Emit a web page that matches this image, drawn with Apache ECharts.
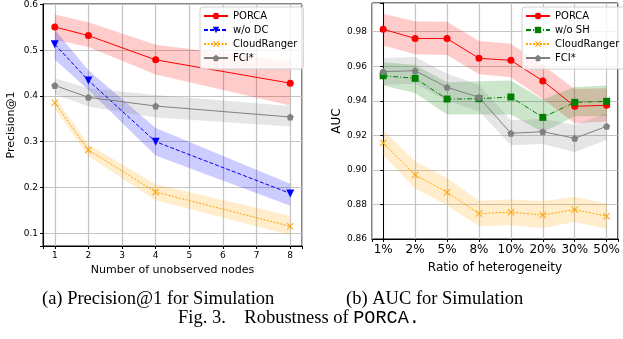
<!DOCTYPE html>
<html><head><meta charset="utf-8">
<script src="https://cdn.jsdelivr.net/npm/echarts@6/dist/echarts.min.js"></script>
<style>html,body{margin:0;padding:0;background:#fff}#c{width:623px;height:339px}</style>
</head><body><div id="c"></div>
<script>
// ---- Left chart data (Precision@1) ----
const nodes = [1, 2, 4, 8];
const porcaA = [0.551, 0.532, 0.479, 0.428];
const porcaAHi = [0.578, 0.561, 0.512, 0.476];
const porcaALo = [0.523, 0.507, 0.447, 0.379];
const woDC = [0.513, 0.434, 0.300, 0.187];
const woDCHi = [0.545, 0.456, 0.330, 0.208];
const woDCLo = [0.480, 0.413, 0.270, 0.160];
const crA = [0.385, 0.282, 0.190, 0.115];
const crAHi = [0.398, 0.294, 0.207, 0.138];
const crALo = [0.372, 0.268, 0.172, 0.096];
const fciA = [0.423, 0.397, 0.378, 0.354];
const fciAHi = [0.439, 0.417, 0.402, 0.378];
const fciALo = [0.404, 0.377, 0.353, 0.333];

// ---- Right chart data (AUC) ----
const ratios = ['1%', '2%', '5%', '8%', '10%', '20%', '30%', '50%'];
const porcaB = [0.9814, 0.9761, 0.9760, 0.9646, 0.9634, 0.9515, 0.9368, 0.9374];
const porcaBHi = [0.9904, 0.9860, 0.9858, 0.9746, 0.9730, 0.9607, 0.9468, 0.9472];
const porcaBLo = [0.9720, 0.9670, 0.9665, 0.9553, 0.9536, 0.9410, 0.9270, 0.9280];
const woSH = [0.9545, 0.9530, 0.9410, 0.9412, 0.9422, 0.9304, 0.9391, 0.9397];
const woSHHi = [0.9623, 0.9607, 0.9507, 0.9513, 0.9517, 0.9407, 0.9480, 0.9488];
const woSHLo = [0.9488, 0.9445, 0.9320, 0.9320, 0.9320, 0.9218, 0.9310, 0.9310];
const crB = [0.9156, 0.8971, 0.8870, 0.8747, 0.8755, 0.8739, 0.8770, 0.8732];
const crBHi = [0.9230, 0.9050, 0.8953, 0.8822, 0.8828, 0.8820, 0.8843, 0.8805];
const crBLo = [0.9086, 0.8892, 0.8795, 0.8674, 0.8680, 0.8664, 0.8699, 0.8658];
const fciB = [0.9569, 0.9574, 0.9478, 0.9420, 0.9212, 0.9221, 0.9183, 0.9252];
const fciBHi = [0.9648, 0.9653, 0.9557, 0.9493, 0.9287, 0.9295, 0.9262, 0.9330];
const fciBLo = [0.9493, 0.9499, 0.9400, 0.9339, 0.9142, 0.9150, 0.9102, 0.9175];

const legendA = ['PORCA', 'w/o DC', 'CloudRanger', 'FCI*'];
const legendB = ['PORCA', 'w/o SH', 'CloudRanger', 'FCI*'];

const RED = '#ff0000', BLUE = '#0000ff', ORANGE = '#ffa500', GRAY = '#808080', GREEN = '#008000';
const XSYM = 'path://M0,1L1,0L5,4L9,0L10,1L6,5L10,9L9,10L5,6L1,10L0,9L4,5Z';
const PENT = 'path://M5,0L10,3.8L8.1,10L1.9,10L0,3.8Z';
const FONT = 'DejaVu Sans';

const xsB = ratios.map((_, i) => i);

function band(xs, lo, hi, color, idx) {
  return {
    type: 'custom', xAxisIndex: idx, yAxisIndex: idx, silent: true, z: 1,
    data: [[xs[0], lo[0]]],
    renderItem: function (params, api) {
      const pts = [];
      for (let i = 0; i < xs.length; i++) pts.push(api.coord([xs[i], hi[i]]));
      for (let i = xs.length - 1; i >= 0; i--) pts.push(api.coord([xs[i], lo[i]]));
      return { type: 'polygon', shape: { points: pts }, style: { fill: color } };
    }
  };
}
function line(name, xs, ys, color, symbol, size, type, idx, rot) {
  return {
    type: 'line', name: name, xAxisIndex: idx, yAxisIndex: idx, z: 3,
    data: xs.map((x, i) => [x, ys[i]]),
    symbol: symbol, symbolSize: size, symbolRotate: rot || 0, showSymbol: true,
    lineStyle: { color: color, width: 1, type: type },
    itemStyle: { color: color },
    animation: false
  };
}
const gridLine = { show: true, lineStyle: { color: '#c4c4c4', width: 1.2 } };
const axLine = { show: true, lineStyle: { color: '#000', width: 1 } };
const axTick = { show: true, length: 3, lineStyle: { color: '#000' } };
const CAP = '18.5px "Liberation Serif"';

const chart = echarts.init(document.getElementById('c'), null, { renderer: 'canvas' });
chart.setOption({
  animation: false,
  backgroundColor: '#fff',
  grid: [
    { left: 43, top: 4, width: 259, height: 242, show: true, borderColor: '#000', borderWidth: 1, backgroundColor: 'transparent' },
    { left: 372, top: 3, width: 250, height: 236, show: true, borderColor: '#000', borderWidth: 1, backgroundColor: 'transparent' }
  ],
  xAxis: [
    { type: 'value', gridIndex: 0, min: 0.65, max: 8.35, minInterval: 1, maxInterval: 1, splitNumber: 8,
      axisLine: axLine, axisTick: axTick, splitLine: gridLine,
      axisLabel: { fontFamily: FONT, fontSize: 9, color: '#000', margin: 5,
        formatter: v => Math.abs(v - Math.round(v)) < 1e-6 ? String(Math.round(v)) : '' },
      name: 'Number of unobserved nodes', nameLocation: 'middle', nameGap: 17,
      nameTextStyle: { fontFamily: FONT, fontSize: 11, color: '#000' } },
    { type: 'value', gridIndex: 1, min: -0.35, max: 7.35, minInterval: 1, maxInterval: 1, splitNumber: 8,
      axisLine: axLine, axisTick: axTick, splitLine: gridLine,
      axisLabel: { fontFamily: FONT, fontSize: 12, color: '#000', margin: 5,
        formatter: v => { const r = Math.round(v); return Math.abs(v - r) < 1e-6 && ratios[r] !== undefined ? ratios[r] : ''; } },
      name: 'Ratio of heterogeneity', nameLocation: 'middle', nameGap: 23,
      nameTextStyle: { fontFamily: FONT, fontSize: 12, color: '#000' } }
  ],
  yAxis: [
    { type: 'value', gridIndex: 0, min: 0.072, max: 0.601, minInterval: 0.1, maxInterval: 0.1, splitNumber: 5,
      axisLine: axLine, axisTick: axTick, splitLine: gridLine,
      axisLabel: { fontFamily: FONT, fontSize: 9, color: '#000', margin: 5,
        formatter: v => Math.abs(v * 10 - Math.round(v * 10)) < 1e-6 ? v.toFixed(1) : '' },
      name: 'Precision@1', nameLocation: 'middle', nameGap: 26,
      nameTextStyle: { fontFamily: FONT, fontSize: 11, color: '#000' } },
    { type: 'value', gridIndex: 1, min: 0.86, max: 0.9966, interval: 0.02,
      axisLine: axLine, axisTick: axTick, splitLine: gridLine,
      axisLabel: { fontFamily: FONT, fontSize: 9, color: '#000', margin: 5,
        formatter: v => Math.abs(v * 50 - Math.round(v * 50)) < 1e-6 ? v.toFixed(2) : '' },
      name: 'AUC', nameLocation: 'middle', nameGap: 25,
      nameTextStyle: { fontFamily: FONT, fontSize: 12, color: '#000' } }
  ],
  legend: [
    { data: legendA, orient: 'vertical', left: 200, top: 7,
      itemWidth: 24, itemHeight: 8, itemGap: 2, padding: [3, 6, 5, 3],
      backgroundColor: 'rgba(255,255,255,0.8)', borderColor: '#d0d0d0', borderWidth: 1, borderRadius: 3,
      textStyle: { fontFamily: FONT, fontSize: 10, color: '#000', lineHeight: 12 },
      selectedMode: false },
    { data: legendB, orient: 'vertical', left: 522, top: 7,
      itemWidth: 24, itemHeight: 8, itemGap: 2, padding: [3, 6, 5, 3],
      backgroundColor: 'rgba(255,255,255,0.8)', borderColor: '#d0d0d0', borderWidth: 1, borderRadius: 3,
      textStyle: { fontFamily: FONT, fontSize: 10, color: '#000', lineHeight: 12 },
      selectedMode: false }
  ],
  series: [
    band(nodes, porcaALo, porcaAHi, 'rgba(255,0,0,0.2)', 0),
    band(nodes, woDCLo, woDCHi, 'rgba(0,0,255,0.2)', 0),
    band(nodes, crALo, crAHi, 'rgba(255,165,0,0.2)', 0),
    band(nodes, fciALo, fciAHi, 'rgba(128,128,128,0.2)', 0),
    line('PORCA', nodes, porcaA, RED, 'circle', 7, 'solid', 0),
    line('w/o DC', nodes, woDC, BLUE, 'triangle', 8, [4, 2], 0, 180),
    line('CloudRanger', nodes, crA, ORANGE, XSYM, 7, [2, 1.5], 0),
    line('FCI*', nodes, fciA, GRAY, PENT, 7, 'solid', 0),
    band(xsB, porcaBLo, porcaBHi, 'rgba(255,0,0,0.2)', 1),
    band(xsB, woSHLo, woSHHi, 'rgba(0,128,0,0.2)', 1),
    band(xsB, crBLo, crBHi, 'rgba(255,165,0,0.2)', 1),
    band(xsB, fciBLo, fciBHi, 'rgba(128,128,128,0.2)', 1),
    line('PORCA', xsB, porcaB, RED, 'circle', 7, 'solid', 1),
    line('w/o SH', xsB, woSH, GREEN, 'rect', 7, [5, 2, 1, 2], 1),
    line('CloudRanger', xsB, crB, ORANGE, XSYM, 7, [2, 1.5], 1),
    line('FCI*', xsB, fciB, GRAY, PENT, 7, 'solid', 1)
  ],
  graphic: [
    { type: 'text', left: 42, top: 290, style: { text: '(a) Precision@1 for Simulation', font: CAP, fill: '#000' } },
    { type: 'text', left: 346, top: 290, style: { text: '(b) AUC for Simulation', font: CAP, fill: '#000' } },
    { type: 'text', left: 178, top: 309, style: {
        text: 'Fig. 3.    Robustness of {m|PORCA.}',
        font: CAP, fill: '#000',
        rich: { m: { fontFamily: 'Liberation Mono', fontSize: 18.5, fill: '#000' } } } }
  ]
});
</script></body></html>
